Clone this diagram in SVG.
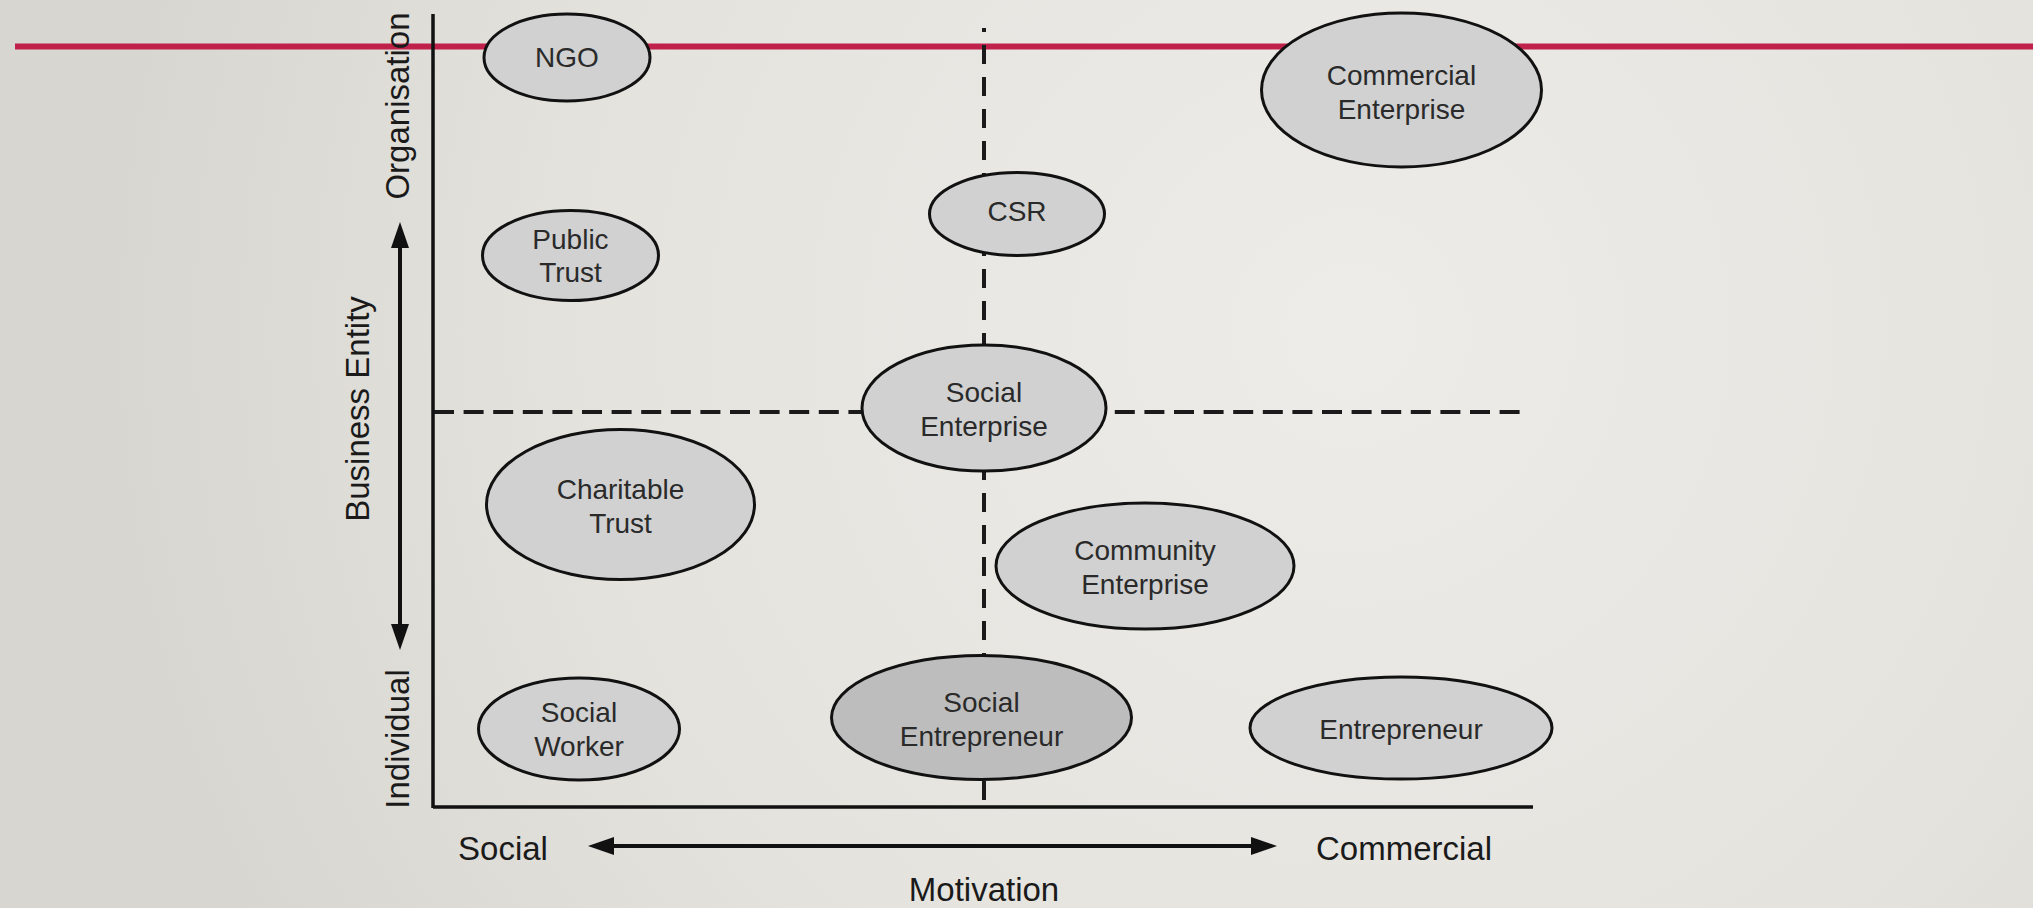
<svg xmlns="http://www.w3.org/2000/svg" width="2033" height="908" viewBox="0 0 2033 908">
<defs>
<radialGradient id="bg" cx="1350" cy="330" r="1250" gradientUnits="userSpaceOnUse">
<stop offset="0" stop-color="#edece8"/>
<stop offset="0.6" stop-color="#e5e3de"/>
<stop offset="1" stop-color="#d8d6d0"/>
</radialGradient>
<marker id="arr" markerUnits="userSpaceOnUse" markerWidth="28" markerHeight="20" refX="18" refY="9" orient="auto-start-reverse" viewBox="0 0 28 20">
<path d="M0,0 L26,9 L0,18 z" fill="#111"/>
</marker>
<style>
.node ellipse{fill:#d1d1d1;stroke:#111;stroke-width:3}
#social-entrepreneur ellipse{fill:#bdbdbd}
.node text{font-family:"Liberation Sans",Arial,sans-serif;font-size:28px;fill:#2a2a2a;text-anchor:middle}
.lbl{font-family:"Liberation Sans",Arial,sans-serif;font-size:33px;fill:#1a1a1a}
.axis{stroke:#111;stroke-width:3.5;fill:none}
.dash{stroke:#1a1a1a;stroke-width:4;fill:none}
.arrow{stroke:#111;stroke-width:4;fill:none}
</style>
</defs>
<rect width="2033" height="908" fill="url(#bg)"/>
<line x1="15" y1="46.5" x2="2033" y2="46.5" stroke="#c0214a" stroke-width="6"/>
<g id="connectors">
<line class="dash" x1="984" y1="28" x2="984" y2="806" stroke-dasharray="19 13" stroke-dashoffset="15"/>
<line class="dash" x1="434" y1="412" x2="1522" y2="412" stroke-dasharray="20 9.6"/>
<line class="axis" x1="433" y1="14" x2="433" y2="808"/>
<line class="axis" x1="433" y1="807" x2="1533" y2="807" stroke-width="4.5"/>
<line class="arrow" x1="400" y1="230" x2="400" y2="642" marker-start="url(#arr)" marker-end="url(#arr)"/>
<line class="arrow" x1="596" y1="846" x2="1269" y2="846" marker-start="url(#arr)" marker-end="url(#arr)"/>
</g>
<g id="axis-labels">
<text class="lbl" transform="translate(409,106) rotate(-90)" text-anchor="middle">Organisation</text>
<text class="lbl" transform="translate(369,409) rotate(-90)" text-anchor="middle">Business Entity</text>
<text class="lbl" transform="translate(409,739) rotate(-90)" text-anchor="middle">Individual</text>
<text class="lbl" x="503" y="860" text-anchor="middle">Social</text>
<text class="lbl" x="1404" y="860" text-anchor="middle">Commercial</text>
<text class="lbl" x="984" y="901" text-anchor="middle">Motivation</text>
</g>
<g id="ngo" class="node">
<ellipse cx="567" cy="57.5" rx="83" ry="43.5"/>
<text x="567" y="67">NGO</text>
</g>
<g id="public-trust" class="node">
<ellipse cx="570.5" cy="255.5" rx="88" ry="45"/>
<text x="570.5" y="248.5">Public</text>
<text x="570.5" y="282">Trust</text>
</g>
<g id="commercial-enterprise" class="node">
<ellipse cx="1401.5" cy="90" rx="140" ry="77"/>
<text x="1401.5" y="85">Commercial</text>
<text x="1401.5" y="119">Enterprise</text>
</g>
<g id="csr" class="node">
<ellipse cx="1017" cy="214" rx="87.5" ry="41.5"/>
<text x="1017" y="221">CSR</text>
</g>
<g id="social-enterprise" class="node">
<ellipse cx="984" cy="408" rx="122" ry="63"/>
<text x="984" y="402">Social</text>
<text x="984" y="436">Enterprise</text>
</g>
<g id="charitable-trust" class="node">
<ellipse cx="620.5" cy="504.5" rx="134" ry="75"/>
<text x="620.5" y="499">Charitable</text>
<text x="620.5" y="532.5">Trust</text>
</g>
<g id="community-enterprise" class="node">
<ellipse cx="1145" cy="566" rx="149" ry="63"/>
<text x="1145" y="560">Community</text>
<text x="1145" y="593.5">Enterprise</text>
</g>
<g id="social-worker" class="node">
<ellipse cx="579" cy="729" rx="100.5" ry="51"/>
<text x="579" y="722">Social</text>
<text x="579" y="755.5">Worker</text>
</g>
<g id="social-entrepreneur" class="node">
<ellipse cx="981.5" cy="717.5" rx="150" ry="62"/>
<text x="981.5" y="711.5">Social</text>
<text x="981.5" y="745.5">Entrepreneur</text>
</g>
<g id="entrepreneur" class="node">
<ellipse cx="1401" cy="728" rx="151" ry="51"/>
<text x="1401" y="738.5">Entrepreneur</text>
</g>
</svg>
